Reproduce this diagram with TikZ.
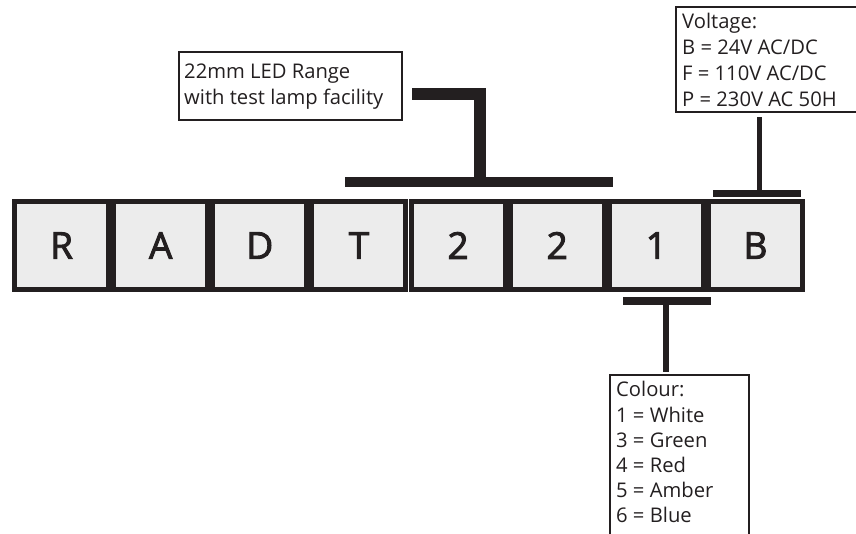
\documentclass[tikz,border=0pt]{standalone}
\usepackage{fontspec}
\setmainfont{Open Sans}
\newfontfamily\cellfont[FakeBold=2.5]{Open Sans}
\definecolor{ink}{HTML}{231F20}
\definecolor{cellgray}{HTML}{ECECEC}
\begin{document}
\begin{tikzpicture}[x=1pt,y=-1pt,
  cell/.style={draw=ink, fill=cellgray, line width=5pt, minimum width=94.1pt, minimum height=88pt,
    inner sep=0pt, outer sep=0pt, text=ink, font=\cellfont\fontsize{37}{40}\selectfont},
  infobox/.style={draw=ink, line width=2pt, inner sep=0pt, anchor=north west},
  infotext/.style={anchor=north west, align=left, inner sep=0pt, text=ink, font=\fontsize{20.2}{#1}\selectfont},
  heavy/.style={draw=ink, line width=#1}]
\useasboundingbox (0,0) rectangle (856,533);
\clip (0,0) rectangle (856,533);
% code cells
\foreach \l [count=\i from 0] in {R,A,D,T,2,2,1,B}
  \node[cell] (c\i) at ({12+99.125*(\i+0.5)},245.5) {\l};
% info boxes
\node[infobox, minimum width=223pt, minimum height=68pt] (range) at (178,51) {};
\node[infotext=26] (rangetxt) at (184,63.9) {22mm LED Range\\with test lamp facility};
\node[infobox, minimum width=200pt, minimum height=105pt] (volt) at (675,6) {};
\node[infotext=26] (volttxt) at (682,13.1) {Voltage:\\B = 24V AC/DC\\F = 110V AC/DC\\P = 230V AC 50H};
\node[infobox, minimum width=139pt, minimum height=200pt] (colour) at (609,374) {};
\node[infotext=25.2] (colourtxt) at (616,381.3) {Colour:\\1 = White\\3 = Green\\4 = Red\\5 = Amber\\6 = Blue};
% range bracket
\coordinate (r1) at (412,94);
\coordinate (r2) at (480,177);
\coordinate (r3) at (345,181.7);
\coordinate (r4) at (613,181.7);
\draw[heavy=12pt] (r1) -| (r2);
\draw[heavy=10pt] (r3) -- (r4);
% voltage bracket
\coordinate (v1) at (759.5,117);
\coordinate (v2) at (759.5,190);
\coordinate (v3) at (713,193.5);
\coordinate (v4) at (801,193.5);
\draw[heavy=5.5pt] (v1) -- (v2);
\draw[heavy=7.5pt] (v3) -- (v4);
% colour bracket
\coordinate (k1) at (623,301);
\coordinate (k2) at (711,301);
\coordinate (k3) at (666,305);
\coordinate (k4) at (666,372);
\draw[heavy=8.5pt] (k1) -- (k2);
\draw[heavy=6pt] (k3) -- (k4);
\end{tikzpicture}
\end{document}
